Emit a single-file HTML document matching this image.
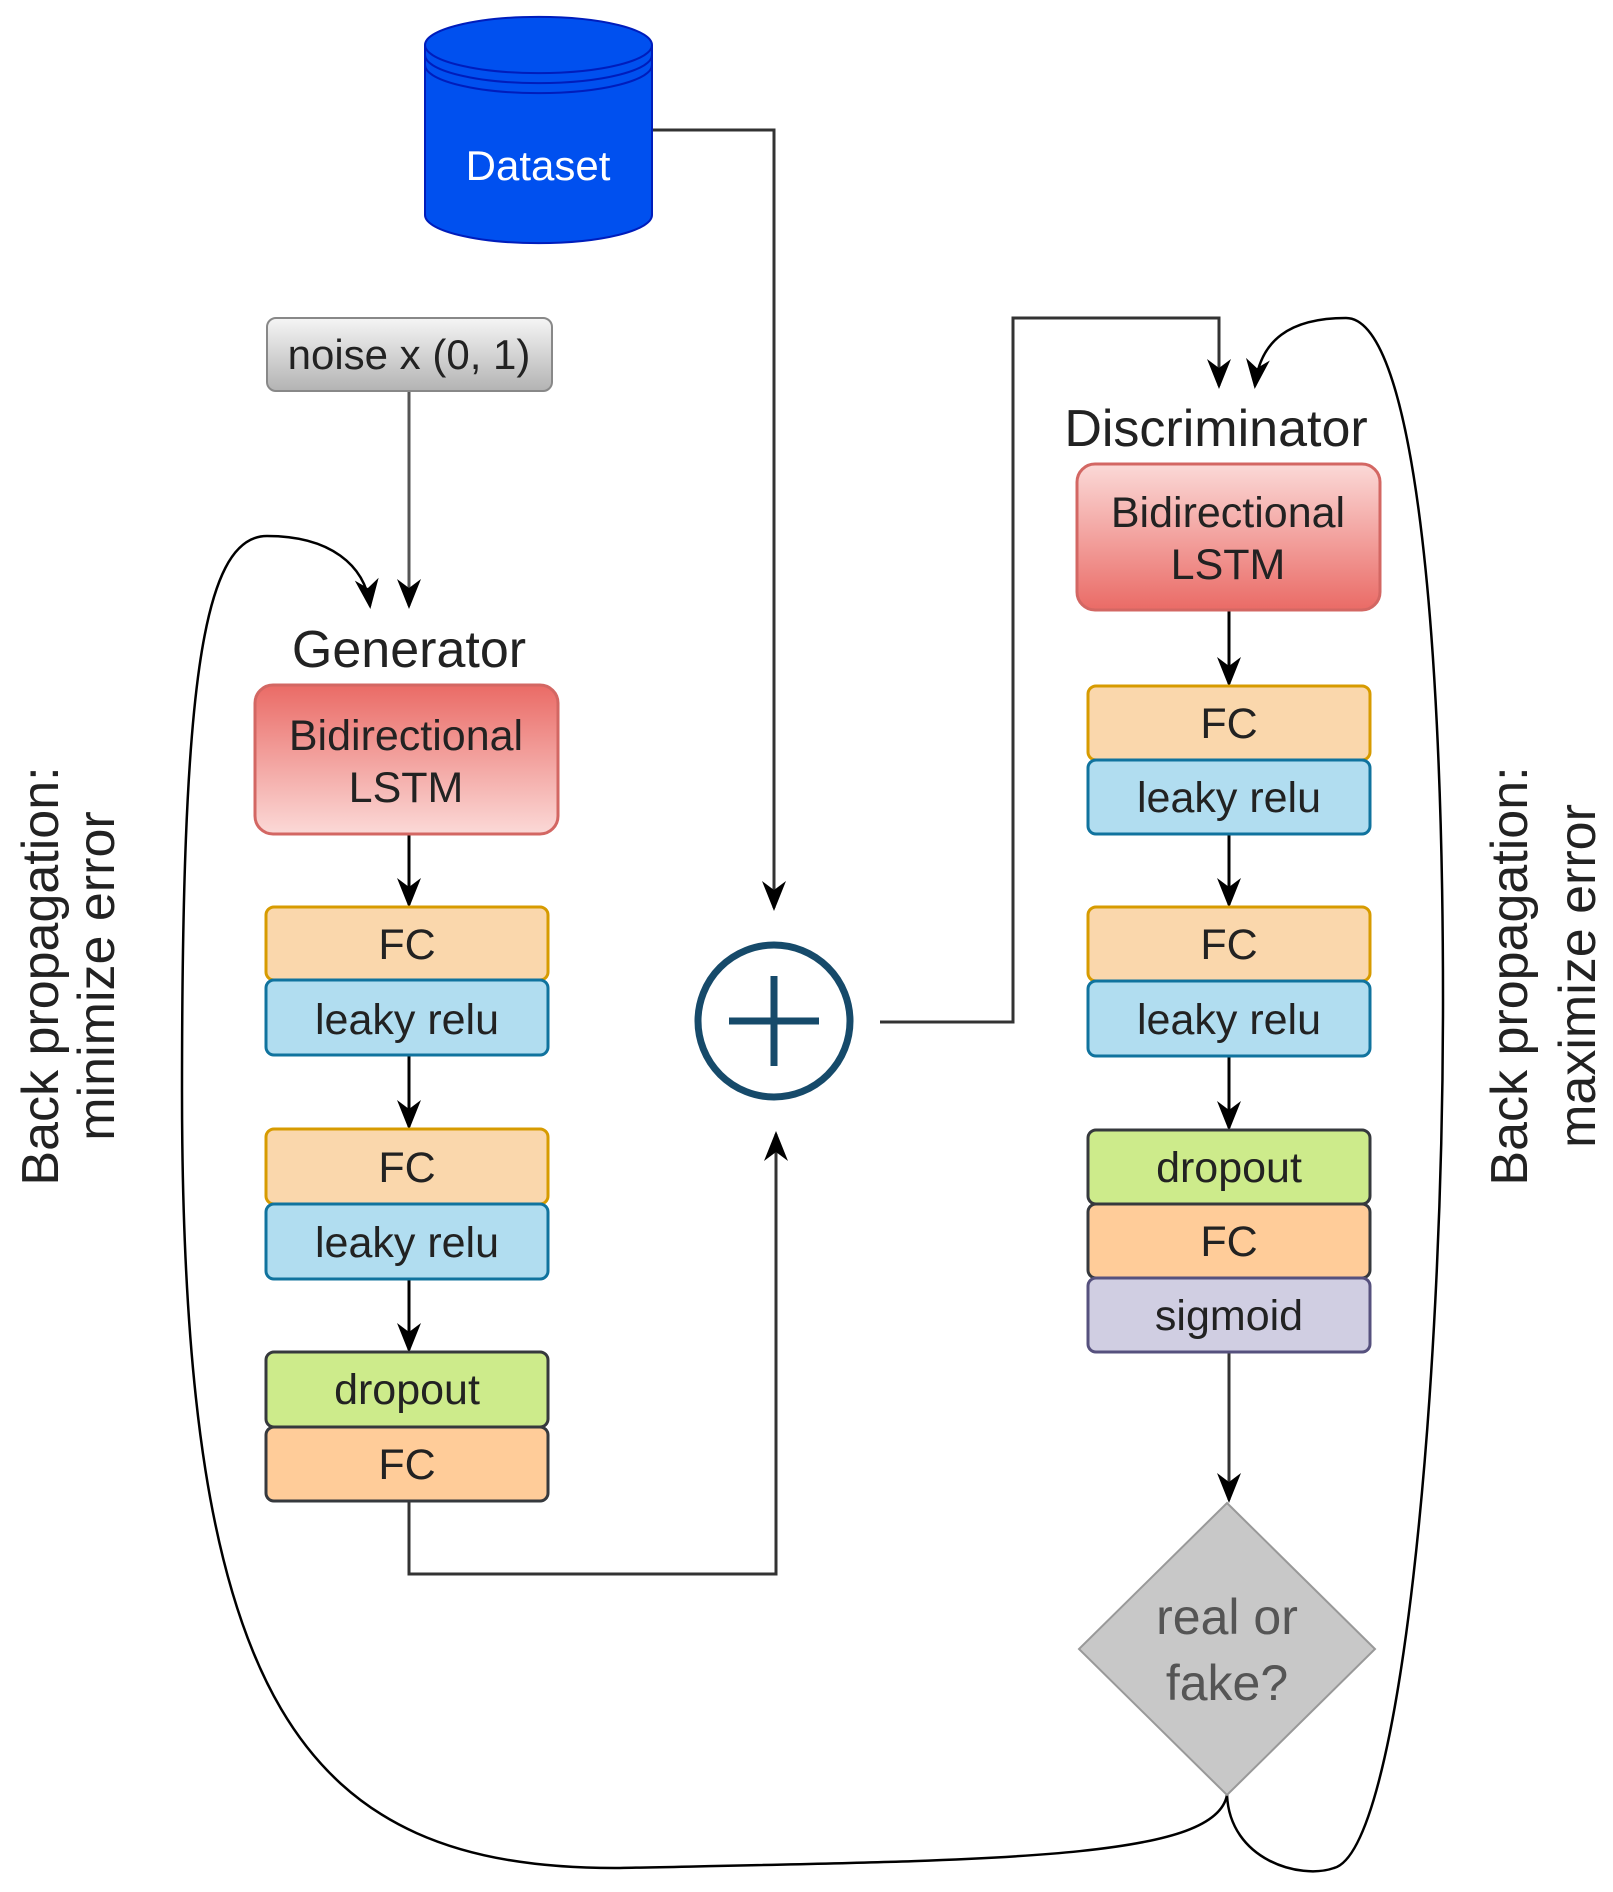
<!DOCTYPE html>
<html><head><meta charset="utf-8"><style>
html,body{margin:0;padding:0;background:#fff;}
svg{display:block;}
text{font-family:"Liberation Sans",Arial,sans-serif;}
</style></head><body>
<svg width="1613" height="1892" viewBox="0 0 1613 1892" xmlns="http://www.w3.org/2000/svg">
<defs>
<linearGradient id="red" x1="0" y1="0" x2="0" y2="1"><stop offset="0" stop-color="#ea6b66"/><stop offset="1" stop-color="#fbd9d7"/></linearGradient>
<linearGradient id="redD" x1="0" y1="0" x2="0" y2="1"><stop offset="0" stop-color="#fbd9d7"/><stop offset="1" stop-color="#ea6b66"/></linearGradient>
<linearGradient id="gray" x1="0" y1="0" x2="0" y2="1"><stop offset="0" stop-color="#f5f5f5"/><stop offset="1" stop-color="#b3b3b3"/></linearGradient>
<marker id="a" viewBox="0 0 10 10" refX="9" refY="5" markerWidth="30" markerHeight="30" orient="auto" markerUnits="userSpaceOnUse"><path d="M0,1 L10,5 L0,9 L3,5 z" fill="#000"/></marker>
</defs>
<g fill="none" stroke="#000" stroke-width="3">
<path d="M652,130 H774 V908" marker-end="url(#a)" stroke="#333"/>
<path d="M409,391 V606" marker-end="url(#a)" stroke="#555"/>
<path d="M1227,1795 C1215,1860 1000,1860 620,1868 C300,1870 182,1700 182,1092 C182,700 200,536 267,536 C330,536 365,565 370,606" marker-end="url(#a)" stroke-width="2.5"/>
<path d="M1227,1795 C1230,1860 1300,1880 1334,1868 C1400,1850 1443,1400 1443,1000 C1443,600 1410,318 1346,318 C1290,318 1260,340 1255,386" marker-end="url(#a)" stroke-width="2.5"/>
<path d="M409,834 V905" marker-end="url(#a)"/>
<path d="M409,1055 V1127" marker-end="url(#a)"/>
<path d="M409,1279 V1350" marker-end="url(#a)"/>
<path d="M409,1501 V1574 H776 V1134" marker-end="url(#a)" stroke="#333"/>
<path d="M880,1022 H1013 V318 H1219 V386" marker-end="url(#a)" stroke="#333"/>
<path d="M1229,610 V684" marker-end="url(#a)"/>
<path d="M1229,834 V905" marker-end="url(#a)"/>
<path d="M1229,1056 V1128" marker-end="url(#a)"/>
<path d="M1229,1352 V1500" marker-end="url(#a)" stroke="#333"/>
</g>
<path d="M425,45 V215 A113,28 0 0 0 652,215 V45 A113,28 0 0 0 425,45 Z" fill="#0050ef" stroke="#001dbc" stroke-width="2"/>
<path d="M425,45 A113,28 0 0 0 652,45" fill="none" stroke="#001dbc" stroke-width="2"/>
<path d="M425,55 A113,28 0 0 0 652,55" fill="none" stroke="#001dbc" stroke-width="2"/>
<path d="M425,65 A113,28 0 0 0 652,65" fill="none" stroke="#001dbc" stroke-width="2"/>
<text x="538" y="180" font-size="42" fill="#fff" text-anchor="middle">Dataset</text>
<rect x="267" y="318" width="285" height="73" rx="9" fill="url(#gray)" stroke="#888" stroke-width="2"/>
<text x="409" y="369" font-size="42" fill="#222" text-anchor="middle">noise x (0, 1)</text>
<text x="409" y="667" font-size="52" fill="#222" text-anchor="middle">Generator</text>
<rect x="255" y="685" width="303" height="149" rx="18" fill="url(#red)" stroke="#d36763" stroke-width="3"/>
<text x="406" y="750" font-size="43" fill="#222" text-anchor="middle">Bidirectional</text>
<text x="406" y="802" font-size="43" fill="#222" text-anchor="middle">LSTM</text>
<g stroke-width="3">
<rect x="266" y="907" width="282" height="73" rx="8" fill="#fad7ac" stroke="#d79b00"/>
<rect x="266" y="980" width="282" height="75" rx="8" fill="#b1ddf0" stroke="#10739e"/>
<rect x="266" y="1129" width="282" height="75" rx="8" fill="#fad7ac" stroke="#d79b00"/>
<rect x="266" y="1204" width="282" height="75" rx="8" fill="#b1ddf0" stroke="#10739e"/>
<rect x="266" y="1352" width="282" height="75" rx="8" fill="#cdeb8b" stroke="#36393d"/>
<rect x="266" y="1427" width="282" height="74" rx="8" fill="#ffcc99" stroke="#36393d"/>
<rect x="1088" y="686" width="282" height="74" rx="8" fill="#fad7ac" stroke="#d79b00"/>
<rect x="1088" y="760" width="282" height="74" rx="8" fill="#b1ddf0" stroke="#10739e"/>
<rect x="1088" y="907" width="282" height="74" rx="8" fill="#fad7ac" stroke="#d79b00"/>
<rect x="1088" y="981" width="282" height="75" rx="8" fill="#b1ddf0" stroke="#10739e"/>
<rect x="1088" y="1130" width="282" height="74" rx="8" fill="#cdeb8b" stroke="#36393d"/>
<rect x="1088" y="1204" width="282" height="74" rx="8" fill="#ffcc99" stroke="#36393d"/>
<rect x="1088" y="1278" width="282" height="74" rx="8" fill="#d0cee2" stroke="#56517e"/>
</g>
<g font-size="43" fill="#222" text-anchor="middle">
<text x="407" y="959">FC</text>
<text x="407" y="1034">leaky relu</text>
<text x="407" y="1182">FC</text>
<text x="407" y="1257">leaky relu</text>
<text x="407" y="1404">dropout</text>
<text x="407" y="1479">FC</text>
<text x="1229" y="738">FC</text>
<text x="1229" y="812">leaky relu</text>
<text x="1229" y="959">FC</text>
<text x="1229" y="1034">leaky relu</text>
<text x="1229" y="1182">dropout</text>
<text x="1229" y="1256">FC</text>
<text x="1229" y="1330">sigmoid</text>
</g>
<circle cx="774" cy="1021" r="76" fill="#fff" stroke="#164a6a" stroke-width="7"/>
<path d="M729,1021 H819 M774,976 V1066" stroke="#164a6a" stroke-width="7"/>
<text x="1216" y="446" font-size="52" fill="#222" text-anchor="middle">Discriminator</text>
<rect x="1077" y="464" width="303" height="146" rx="18" fill="url(#redD)" stroke="#d36763" stroke-width="3"/>
<text x="1228" y="527" font-size="43" fill="#222" text-anchor="middle">Bidirectional</text>
<text x="1228" y="579" font-size="43" fill="#222" text-anchor="middle">LSTM</text>
<path d="M1227,1503 L1375,1649 L1227,1795 L1079,1649 Z" fill="#c8c8c8" stroke="#999" stroke-width="2"/>
<text x="1227" y="1634" font-size="50" fill="#555" text-anchor="middle">real or</text>
<text x="1227" y="1700" font-size="50" fill="#555" text-anchor="middle">fake?</text>
<g font-size="52" fill="#222" text-anchor="middle">
<text transform="translate(58,976) rotate(-90)">Back propagation:</text>
<text transform="translate(114,976) rotate(-90)">minimize error</text>
<text transform="translate(1527,976) rotate(-90)">Back propagation:</text>
<text transform="translate(1595,976) rotate(-90)">maximize error</text>
</g>
</svg>
</body></html>
